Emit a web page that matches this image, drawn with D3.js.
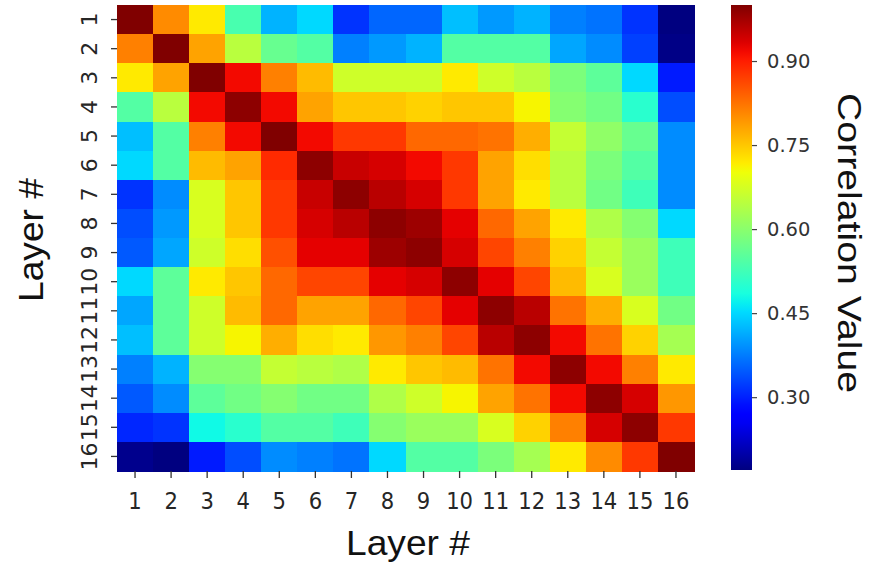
<!DOCTYPE html>
<html>
<head>
<meta charset="utf-8">
<script src="https://cdn.jsdelivr.net/npm/d3@7"></script>
<style>
  html, body { margin: 0; padding: 0; background: #fff; }
  svg { display: block; }
</style>
</head>
<body>
<svg id="chart" width="874" height="567"></svg>
<script>
// Layer indices (rows and columns of the correlation matrix)
const layers = d3.range(1, 17);

// Colour bar tick values
const colorbarTicks = [0.30, 0.45, 0.60, 0.75, 0.90];

// Layer-to-layer correlation, one array per row (layer 1 .. 16)
const row1  = [1.000, 0.803, 0.720, 0.533, 0.419, 0.450, 0.315, 0.357, 0.357, 0.429, 0.398, 0.419, 0.378, 0.367, 0.315, 0.170];
const row2  = [0.813, 1.000, 0.782, 0.647, 0.564, 0.544, 0.378, 0.398, 0.419, 0.544, 0.544, 0.544, 0.409, 0.388, 0.326, 0.175];
const row3  = [0.720, 0.782, 1.000, 0.917, 0.813, 0.761, 0.668, 0.668, 0.668, 0.720, 0.668, 0.647, 0.585, 0.554, 0.450, 0.295];
const row4  = [0.544, 0.647, 0.917, 0.990, 0.917, 0.782, 0.751, 0.751, 0.741, 0.751, 0.751, 0.710, 0.595, 0.575, 0.502, 0.336];
const row5  = [0.429, 0.544, 0.813, 0.917, 1.000, 0.917, 0.876, 0.876, 0.834, 0.834, 0.824, 0.772, 0.658, 0.606, 0.564, 0.388];
const row6  = [0.450, 0.544, 0.761, 0.782, 0.888, 0.990, 0.948, 0.938, 0.917, 0.876, 0.782, 0.730, 0.647, 0.585, 0.544, 0.388];
const row7  = [0.315, 0.388, 0.678, 0.751, 0.876, 0.948, 0.990, 0.959, 0.938, 0.876, 0.782, 0.720, 0.647, 0.575, 0.523, 0.388];
const row8  = [0.336, 0.398, 0.678, 0.751, 0.876, 0.938, 0.959, 0.990, 0.979, 0.927, 0.834, 0.782, 0.720, 0.637, 0.595, 0.450];
const row9  = [0.346, 0.409, 0.668, 0.730, 0.855, 0.927, 0.927, 0.979, 0.990, 0.938, 0.865, 0.813, 0.741, 0.658, 0.616, 0.523];
const row10 = [0.450, 0.554, 0.720, 0.751, 0.834, 0.865, 0.865, 0.927, 0.938, 0.990, 0.927, 0.865, 0.761, 0.678, 0.616, 0.523];
const row11 = [0.409, 0.554, 0.668, 0.761, 0.834, 0.782, 0.782, 0.834, 0.865, 0.927, 0.990, 0.959, 0.824, 0.772, 0.678, 0.575];
const row12 = [0.429, 0.554, 0.668, 0.710, 0.772, 0.730, 0.720, 0.793, 0.813, 0.865, 0.959, 0.990, 0.917, 0.824, 0.741, 0.627];
const row13 = [0.378, 0.419, 0.595, 0.595, 0.658, 0.647, 0.637, 0.720, 0.751, 0.761, 0.824, 0.917, 0.990, 0.917, 0.813, 0.720];
const row14 = [0.346, 0.388, 0.554, 0.575, 0.595, 0.575, 0.575, 0.637, 0.668, 0.710, 0.782, 0.824, 0.917, 0.990, 0.938, 0.793];
const row15 = [0.305, 0.315, 0.477, 0.502, 0.544, 0.544, 0.523, 0.595, 0.616, 0.616, 0.678, 0.741, 0.813, 0.938, 0.990, 0.876];
const row16 = [0.180, 0.170, 0.295, 0.336, 0.388, 0.378, 0.367, 0.450, 0.544, 0.544, 0.585, 0.627, 0.720, 0.803, 0.876, 1.000];

const matrix = [row1, row2, row3, row4, row5, row6, row7, row8,
                row9, row10, row11, row12, row13, row14, row15, row16];

// Flatten into cells
const cells = [];
matrix.forEach((row, i) => row.forEach((v, j) => {
  cells.push({ row: layers[i], col: layers[j], value: v });
}));

// "jet" colour map (piecewise linear per channel)
function channel(stops) {
  return d3.scaleLinear().domain(stops.map(s => s[0])).range(stops.map(s => s[1])).clamp(true);
}
const jetR = channel([[0, 0], [0.35, 0], [0.66, 1], [0.89, 1], [1, 0.5]]);
const jetG = channel([[0, 0], [0.125, 0], [0.375, 1], [0.64, 1], [0.91, 0], [1, 0]]);
const jetB = channel([[0, 0.5], [0.11, 1], [0.34, 1], [0.65, 0], [1, 0]]);
function jet(t) {
  return d3.rgb(jetR(t) * 255, jetG(t) * 255, jetB(t) * 255).formatHex();
}

const svg = d3.select("#chart");

const plot = { left: 117, right: 694, top: 5, bottom: 471 };
const x = d3.scaleBand().domain(layers).range([plot.left, plot.right]);
const y = d3.scaleBand().domain(layers).range([plot.top, plot.bottom]);

const extent = d3.extent(cells, d => d.value);
const norm = d3.scaleLinear().domain(extent).range([0, 1]);
const color = v => jet(norm(v));

// Heatmap cells
svg.append("g")
  .selectAll("rect")
  .data(cells)
  .join("rect")
  .attr("x", d => x(d.col))
  .attr("y", d => y(d.row))
  .attr("width", x.bandwidth() + 0.5)
  .attr("height", y.bandwidth() + 0.5)
  .attr("fill", d => color(d.value))
  .attr("shape-rendering", "crispEdges");

const tickFont = "'DejaVu Sans', sans-serif";
const titleFont = "'Liberation Sans', Arial, sans-serif";
const textColor = "#262626";

// Bottom axis
const xAxis = svg.append("g")
  .attr("transform", `translate(0,${plot.bottom})`)
  .call(d3.axisBottom(x).tickSize(7));
xAxis.select(".domain").remove();
xAxis.selectAll(".tick line").attr("stroke", "#333").attr("stroke-width", 1.3);
xAxis.selectAll(".tick text")
  .attr("font-family", tickFont).attr("font-size", 23).attr("fill", textColor)
  .attr("y", null).attr("dy", null)
  .attr("transform", "translate(0,38) scale(0.92,1)");

// Left axis with rotated labels
const yAxis = svg.append("g")
  .attr("transform", `translate(${plot.left},0)`)
  .call(d3.axisLeft(y).tickSize(6).tickPadding(0));
yAxis.select(".domain").remove();
yAxis.selectAll(".tick line").attr("stroke", "#333").attr("stroke-width", 1.3);
yAxis.selectAll(".tick text")
  .attr("font-family", tickFont).attr("font-size", 22).attr("fill", textColor)
  .attr("x", null).attr("dy", null)
  .attr("text-anchor", "middle")
  .attr("transform", "translate(-20,0) rotate(-90)");

// Axis titles
svg.append("text")
  .attr("x", 408).attr("y", 555)
  .attr("text-anchor", "middle")
  .attr("font-family", titleFont)
  .attr("font-size", 35).attr("fill", "#111")
  .attr("textLength", 124).attr("lengthAdjust", "spacingAndGlyphs")
  .text("Layer #");

svg.append("text")
  .attr("transform", "translate(43,240) rotate(-90)")
  .attr("text-anchor", "middle")
  .attr("font-family", titleFont)
  .attr("font-size", 35).attr("fill", "#111")
  .attr("textLength", 124).attr("lengthAdjust", "spacingAndGlyphs")
  .text("Layer #");

// Colour bar
const cb = { x: 731, width: 21, top: 5, bottom: 470 };
const cbScale = d3.scaleLinear().domain(extent).range([cb.bottom, cb.top]);

const defs = svg.append("defs");
const grad = defs.append("linearGradient")
  .attr("id", "jet-grad")
  .attr("x1", 0).attr("y1", 1).attr("x2", 0).attr("y2", 0);
d3.range(0, 1.0001, 0.02).forEach(t => {
  grad.append("stop").attr("offset", t).attr("stop-color", jet(t));
});

svg.append("rect")
  .attr("x", cb.x).attr("y", cb.top)
  .attr("width", cb.width).attr("height", cb.bottom - cb.top)
  .attr("fill", "url(#jet-grad)");

const cAxis = svg.append("g")
  .attr("transform", `translate(${cb.x + cb.width},0)`)
  .call(d3.axisRight(cbScale).tickValues(colorbarTicks).tickFormat(d3.format(".2f")).tickSize(5).tickPadding(10));
cAxis.select(".domain").remove();
cAxis.selectAll(".tick line").attr("stroke", "#444").attr("stroke-width", 1.2);
cAxis.selectAll(".tick text")
  .attr("font-family", tickFont).attr("font-size", 19.5).attr("fill", "#333");

svg.append("text")
  .attr("transform", "translate(838,243) rotate(90)")
  .attr("text-anchor", "middle")
  .attr("font-family", titleFont)
  .attr("font-size", 33).attr("fill", "#111")
  .attr("textLength", 300).attr("lengthAdjust", "spacingAndGlyphs")
  .text("Correlation Value");
</script>
</body>
</html>
